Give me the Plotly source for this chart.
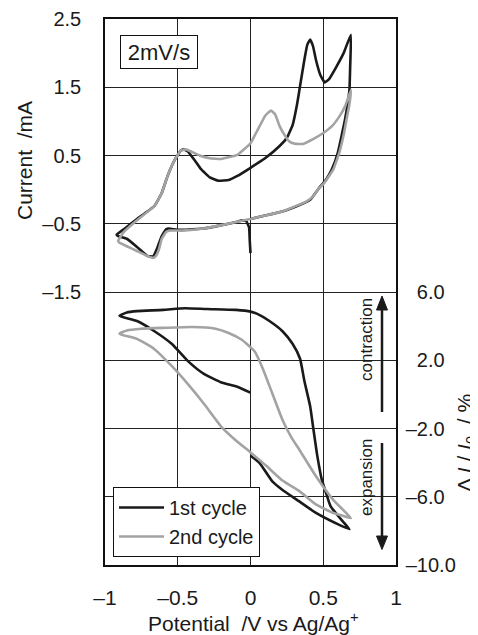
import plotly.graph_objects as go

# ---- Cyclic voltammogram (current, mA) ----
cv1_v = [0.00, -0.005, -0.01, -0.03, -0.06, -0.09, -0.20, -0.32, -0.47, -0.53, -0.56, -0.58, -0.61, -0.64, -0.67,
         -0.71, -0.78, -0.85, -0.91, -0.92, -0.87, -0.78, -0.66, -0.61, -0.57, -0.52, -0.48, -0.46, -0.43, -0.38,
         -0.34, -0.28, -0.22, -0.15, -0.09, 0.00, 0.10, 0.20, 0.25, 0.29, 0.32, 0.34, 0.37, 0.39, 0.41, 0.43, 0.45,
         0.48, 0.51, 0.54, 0.59, 0.64, 0.69, 0.685, 0.68, 0.65, 0.60, 0.56, 0.52, 0.47, 0.41, 0.30, 0.22, 0.10, 0.00]
cv1_i = [-0.93, -0.75, -0.55, -0.46, -0.45, -0.47, -0.52, -0.57, -0.59, -0.58, -0.57, -0.58, -0.68, -0.85, -0.98,
         -0.97, -0.84, -0.72, -0.68, -0.66, -0.58, -0.43, -0.24, -0.05, 0.20, 0.44, 0.57, 0.59, 0.56, 0.42,
         0.30, 0.18, 0.13, 0.14, 0.20, 0.32, 0.46, 0.64, 0.76, 0.95, 1.25, 1.51, 1.90, 2.12, 2.20, 2.10, 1.90,
         1.68, 1.57, 1.62, 1.80, 2.00, 2.27, 1.80, 1.46, 1.03, 0.54, 0.30, 0.15, 0.02, -0.15, -0.26, -0.32, -0.38, -0.43]

cv2_v = [0.00, -0.09, -0.20, -0.32, -0.47, -0.55, -0.58, -0.61, -0.63, -0.65, -0.67, -0.70, -0.78, -0.85, -0.90,
         -0.91, -0.87, -0.78, -0.66, -0.61, -0.57, -0.52, -0.48, -0.45, -0.42, -0.35, -0.28, -0.20, -0.09, 0.00,
         0.06, 0.10, 0.14, 0.17, 0.20, 0.24, 0.27, 0.31, 0.36, 0.43, 0.50, 0.56, 0.61, 0.65, 0.69, 0.68, 0.66,
         0.64, 0.61, 0.57, 0.54, 0.50, 0.47, 0.43, 0.38, 0.30, 0.22, 0.10, 0.00]
cv2_i = [-0.43, -0.47, -0.52, -0.57, -0.60, -0.60, -0.62, -0.72, -0.88, -0.97, -1.00, -0.98, -0.90, -0.83, -0.78,
         -0.75, -0.62, -0.45, -0.24, -0.05, 0.20, 0.44, 0.57, 0.59, 0.57, 0.50, 0.46, 0.45, 0.51, 0.68,
         0.92, 1.08, 1.16, 1.10, 0.93, 0.78, 0.70, 0.67, 0.67, 0.74, 0.83, 0.93, 1.07, 1.22, 1.46, 1.25, 1.03,
         0.80, 0.54, 0.30, 0.20, 0.08, 0.02, -0.10, -0.18, -0.25, -0.32, -0.38, -0.43]

# ---- Strain (ΔI/I0, %) ----
st1_v = [0.00, -0.09, -0.20, -0.32, -0.43, -0.54, -0.66, -0.78, -0.90, -0.85, -0.78, -0.60, -0.45, -0.30, -0.10,
         0.00, 0.05, 0.13, 0.22, 0.29, 0.34, 0.37, 0.41, 0.43, 0.46, 0.49, 0.52, 0.55, 0.63, 0.68, 0.61, 0.45,
         0.34, 0.22, 0.15, 0.06, 0.00]
st1_d = [0.10, 0.45, 0.70, 1.20, 1.95, 2.95, 3.70, 4.30, 4.60, 4.80, 4.88, 4.95, 5.05, 5.00, 4.95,
         4.85, 4.70, 4.30, 3.70, 2.95, 2.10, 0.80, -0.70, -1.90, -3.65, -5.00, -5.80, -6.55, -7.40, -7.90, -7.65, -6.95,
         -6.30, -5.60, -5.10, -4.00, -3.60]

st2_v = [0.00, -0.10, -0.20, -0.32, -0.43, -0.54, -0.66, -0.78, -0.90, -0.85, -0.75, -0.60, -0.40, -0.24, -0.15,
         -0.06, 0.03, 0.08, 0.15, 0.22, 0.28, 0.34, 0.45, 0.57, 0.69, 0.63, 0.57, 0.45, 0.34, 0.22, 0.11, 0.00]
st2_d = [-3.40, -2.70, -1.90, -0.55, 0.60, 1.65, 2.65, 3.25, 3.55, 3.75, 3.85, 3.90, 3.95, 3.85, 3.60,
         3.20, 2.50, 1.60, 0.05, -1.50, -2.50, -3.30, -4.80, -6.20, -7.25, -7.10, -6.95, -6.45, -5.70, -5.05, -4.20, -3.40]

x_ticks = [-1, -0.5, 0, 0.5, 1]
x_ticktext = ["–1", "–0.5", "0", "0.5", "1"]
y_ticks = [-1.5, -0.5, 0.5, 1.5, 2.5]
y_ticktext = ["–1.5", "–0.5", "0.5", "1.5", "2.5"]
y2_ticks = [-10, -6, -2, 2, 6]
y2_ticktext = ["–10.0", "–6.0", "–2.0", "\u00a0\u00a02.0", "\u00a0\u00a06.0"]

BLACK = "#1a1a1a"
GRAY = "#a3a3a3"
FONT = "Liberation Sans, Arial, Helvetica, sans-serif"

fig = go.Figure()
fig.add_trace(go.Scatter(x=cv1_v, y=cv1_i, mode="lines", name="1st cycle", legendgroup="c1",
                         line=dict(color=BLACK, width=2.6, shape="spline", smoothing=0.3)))
fig.add_trace(go.Scatter(x=cv2_v, y=cv2_i, mode="lines", name="2nd cycle", legendgroup="c2",
                         line=dict(color=GRAY, width=2.6, shape="spline", smoothing=0.3)))
fig.add_trace(go.Scatter(x=st1_v, y=st1_d, mode="lines", name="1st cycle", legendgroup="c1", showlegend=False,
                         yaxis="y2", line=dict(color=BLACK, width=2.6, shape="spline", smoothing=0.5)))
fig.add_trace(go.Scatter(x=st2_v, y=st2_d, mode="lines", name="2nd cycle", legendgroup="c2", showlegend=False,
                         yaxis="y2", line=dict(color=GRAY, width=2.6, shape="spline", smoothing=0.5)))

# page coordinates (the page body has an 8px margin)
OFF = 8
W, H = 478 - OFF, 635 - OFF
L, R, T, B = 105 - OFF, 396 - OFF, 19 - OFF, 565 - OFF


def px(x):
    return (x - OFF - L) / (R - L)


def py(y):
    return (B - (y - OFF)) / (B - T)


axis_common = dict(showgrid=True, gridcolor="#222222", gridwidth=1, showline=True, linecolor="#111111",
                   linewidth=1.5, mirror=True, ticks="", zeroline=False)

fig.update_layout(
    width=W, height=H,
    margin=dict(l=L, r=W - R, t=T, b=H - B, autoexpand=False),
    plot_bgcolor="white", paper_bgcolor="white",
    font=dict(family=FONT, size=21, color=BLACK),
    showlegend=True,
    legend=dict(x=px(113), y=py(487), xanchor="left", yanchor="top", bgcolor="white",
                bordercolor="#111111", borderwidth=1, font=dict(size=20, family=FONT, color=BLACK),
                tracegroupgap=0, itemwidth=45),
    xaxis=dict(range=[-1, 1], tickvals=x_ticks, ticktext=x_ticktext, ticklabelstandoff=13,
               tickfont=dict(size=21), **axis_common),
    yaxis=dict(range=[-5.5, 2.5], tickvals=y_ticks, ticktext=y_ticktext, ticklabelstandoff=18,
               tickfont=dict(size=20), **axis_common),
    yaxis2=dict(range=[-10, 22], tickvals=y2_ticks, ticktext=y2_ticktext, overlaying="y", side="right",
                ticklabelstandoff=4, tickfont=dict(size=20), **axis_common),
)

annotations = [
    dict(text="2mV/s", x=px(159), y=py(51.7), font=dict(size=22), bordercolor="#111111", borderwidth=1,
         borderpad=1, width=74, height=30, bgcolor="white"),
    dict(text="Current  /mA", x=px(25), y=py(161), textangle=-90, font=dict(size=21)),
    dict(text="Potential  /V vs Ag/Ag<sup>+</sup>", x=px(253), y=py(622), font=dict(size=21)),
    dict(text="Δ <i>I</i> / <i>I</i><sub>0</sub>  / %", x=px(466), y=py(443), textangle=-90, font=dict(size=21)),
    dict(text="contraction", x=px(366), y=py(340), textangle=-90, font=dict(size=17)),
    dict(text="expansion", x=px(366), y=py(477), textangle=-90, font=dict(size=17)),
]
for a in annotations:
    a.update(xref="paper", yref="paper", showarrow=False, xanchor="center", yanchor="middle")
fig.update_layout(annotations=annotations)

# arrows (contraction up, expansion down)
ax = 382
shapes = [
    dict(type="line", x0=px(ax), x1=px(ax), y0=py(412), y1=py(306), line=dict(color=BLACK, width=2.5)),
    dict(type="path", path=f"M {px(ax)},{py(296)} L {px(ax-5.5)},{py(310)} L {px(ax+5.5)},{py(310)} Z",
         fillcolor=BLACK, line=dict(color=BLACK, width=1)),
    dict(type="line", x0=px(ax), x1=px(ax), y0=py(443), y1=py(540), line=dict(color=BLACK, width=2.5)),
    dict(type="path", path=f"M {px(ax)},{py(549.5)} L {px(ax-5.5)},{py(536)} L {px(ax+5.5)},{py(536)} Z",
         fillcolor=BLACK, line=dict(color=BLACK, width=1)),
]
for s in shapes:
    s.update(xref="paper", yref="paper")
fig.update_layout(shapes=shapes)

fig.write_html("out.html")
